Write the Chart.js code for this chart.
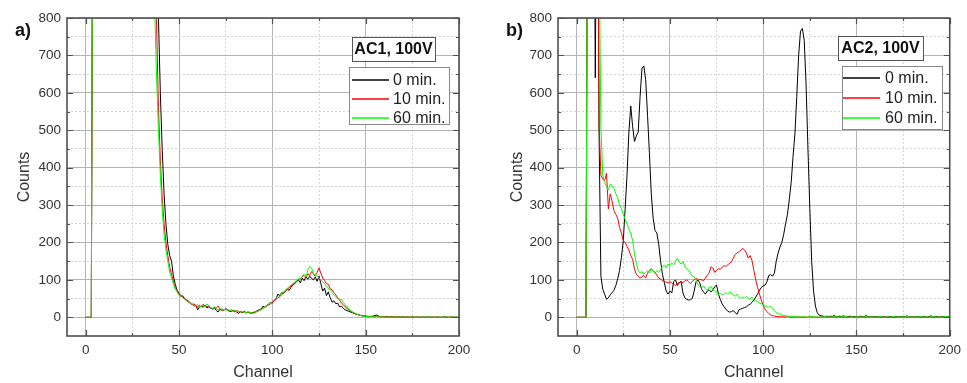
<!DOCTYPE html>
<html>
<head>
<meta charset="utf-8">
<script src="https://cdn.jsdelivr.net/npm/chart.js@4.4.1/dist/chart.umd.min.js"></script>
<style>
  html, body { margin: 0; padding: 0; background: #fff; }
  #wrap { position: relative; width: 967px; height: 383px; }
  canvas { position: absolute; top: 0; }
  #chartA { left: 0; }
  #chartB { left: 480px; }
</style>
</head>
<body>
<div id="wrap">
  <canvas id="chartA" width="480" height="383"></canvas>
  <canvas id="chartB" width="487" height="383"></canvas>
</div>
<script>
// channel numbers (x axis)
const channels = [
  0, 1, 2, 3, 4, 5, 6, 7, 8, 9, 10, 11, 12, 13, 14, 15, 16, 17, 18, 19,
  20, 21, 22, 23, 24, 25, 26, 27, 28, 29, 30, 31, 32, 33, 34, 35, 36, 37, 38, 39,
  40, 41, 42, 43, 44, 45, 46, 47, 48, 49, 50, 51, 52, 53, 54, 55, 56, 57, 58, 59,
  60, 61, 62, 63, 64, 65, 66, 67, 68, 69, 70, 71, 72, 73, 74, 75, 76, 77, 78, 79,
  80, 81, 82, 83, 84, 85, 86, 87, 88, 89, 90, 91, 92, 93, 94, 95, 96, 97, 98, 99,
  100, 101, 102, 103, 104, 105, 106, 107, 108, 109, 110, 111, 112, 113, 114, 115, 116, 117, 118, 119,
  120, 121, 122, 123, 124, 125, 126, 127, 128, 129, 130, 131, 132, 133, 134, 135, 136, 137, 138, 139,
  140, 141, 142, 143, 144, 145, 146, 147, 148, 149, 150, 151, 152, 153, 154, 155, 156, 157, 158, 159,
  160, 161, 162, 163, 164, 165, 166, 167, 168, 169, 170, 171, 172, 173, 174, 175, 176, 177, 178, 179,
  180, 181, 182, 183, 184, 185, 186, 187, 188, 189, 190, 191, 192, 193, 194, 195, 196, 197, 198, 199,
  200
];

const seriesLabels = ['0 min.', '10 min.', '60 min.'];
const seriesColors = ['#000000', '#ff0000', '#00ff00'];

// ---- panel a) AC1, 100V ----
const ac1_0min = [
  0, 0, 0, 0, 1500, 1500, 1500, 1500, 1500, 1500,
  1500, 1500, 1500, 1500, 1500, 1500, 1500, 1500, 1500, 1500,
  1500, 1500, 1500, 1500, 1500, 1500, 1500, 1500, 1500, 1500,
  1500, 1500, 1500, 1500, 1500, 1500, 1500, 1500, 1000, 800,
  600, 450, 330, 250, 195, 165, 150, 110, 88, 72,
  64, 58, 55, 50, 46, 44, 38, 35, 30, 33,
  20, 28, 30, 27, 32, 25, 28, 24, 22, 26,
  18, 14, 22, 20, 18, 24, 20, 17, 15, 19,
  16, 14, 10, 15, 13, 16, 12, 14, 11, 13,
  12, 15, 18, 20, 22, 30, 26, 32, 35, 40,
  38, 45, 50, 62, 58, 66, 64, 70, 75, 72,
  80, 86, 90, 95, 100, 92, 105, 98, 108, 102,
  110, 104, 100, 108, 96, 110, 90, 70, 78, 58,
  68, 52, 40, 44, 36, 38, 28, 30, 24, 20,
  18, 16, 14, 12, 10, 8, 7, 5, 4, 3,
  3, 2, 2, 2, 3, 5, 6, 3, 2, 2,
  1, 2, 1, 1, 2, 1, 0, 1, 1, 0,
  1, 0, 1, 0, 0, 1, 0, 0, 1, 0,
  0, 1, 0, 0, 1, 0, 0, 0, 1, 0,
  0, 0, 1, 0, 0, 0, 1, 0, 0, 0,
  0
];
const ac1_10min = [
  0, 0, 0, 0, 1500, 1500, 1500, 1500, 1500, 1500,
  1500, 1500, 1500, 1500, 1500, 1500, 1500, 1500, 1500, 1500,
  1500, 1500, 1500, 1500, 1500, 1500, 1500, 1500, 1500, 1500,
  1500, 1500, 1500, 1500, 1500, 1500, 1500, 900, 780, 560,
  420, 320, 250, 200, 165, 135, 115, 95, 80, 70,
  60, 55, 58, 50, 47, 40, 38, 34, 36, 30,
  28, 32, 27, 35, 30, 28, 32, 25, 22, 27,
  24, 30, 22, 18, 20, 22, 18, 16, 20, 17,
  15, 18, 14, 16, 13, 15, 12, 14, 12, 11,
  14, 13, 16, 18, 20, 24, 27, 30, 33, 36,
  40, 44, 48, 52, 55, 60, 65, 70, 74, 80,
  84, 88, 92, 96, 100, 104, 108, 112, 106, 116,
  112, 122, 116, 110, 120, 132, 118, 105, 98, 90,
  88, 76, 74, 66, 60, 52, 46, 38, 34, 28,
  24, 20, 17, 14, 11, 9, 7, 6, 5, 4,
  3, 3, 2, 3, 2, 2, 3, 2, 1, 2,
  2, 1, 2, 1, 1, 2, 1, 1, 0, 1,
  1, 0, 1, 1, 0, 1, 0, 1, 0, 0,
  1, 0, 0, 1, 0, 0, 1, 0, 0, 1,
  0, 0, 1, 0, 1, 0, 0, 1, 0, 0,
  0
];
const ac1_60min = [
  0, 0, 0, 0, 1500, 1500, 1500, 1500, 1500, 1500,
  1500, 1500, 1500, 1500, 1500, 1500, 1500, 1500, 1500, 1500,
  1500, 1500, 1500, 1500, 1500, 1500, 1500, 1500, 1500, 1500,
  1500, 1500, 1500, 1500, 1500, 1500, 1000, 820, 640, 500,
  380, 290, 220, 180, 150, 120, 105, 90, 75, 68,
  60, 56, 52, 48, 44, 42, 38, 36, 32, 30,
  34, 28, 30, 32, 28, 36, 30, 26, 24, 28,
  22, 20, 24, 21, 19, 22, 18, 20, 17, 16,
  18, 15, 17, 14, 16, 13, 12, 15, 13, 12,
  10, 14, 16, 18, 21, 25, 28, 32, 35, 38,
  42, 46, 52, 56, 60, 64, 68, 72, 78, 82,
  86, 90, 95, 98, 104, 100, 110, 115, 108, 126,
  136, 132, 118, 112, 110, 105, 100, 96, 90, 84,
  78, 72, 66, 60, 56, 50, 46, 48, 40, 34,
  28, 22, 18, 14, 12, 9, 7, 5, 4, 3,
  2, 2, 1, 2, 1, 1, 2, 1, 1, 1,
  1, 0, 1, 1, 0, 1, 0, 1, 0, 1,
  0, 1, 0, 0, 1, 0, 1, 0, 0, 1,
  0, 0, 1, 0, 0, 1, 0, 0, 1, 0,
  1, 0, 0, 1, 0, 0, 1, 0, 0, 1,
  0
];

// ---- panel b) AC2, 100V ----
const ac2_0min = [
  0, 0, 0, 0, 0, 0, 1500, 1500, 1500, 1500,
  640, 1500, 500, 110, 75, 62, 48, 52, 60, 66,
  72, 85, 103, 125, 160, 205, 290, 380, 495, 565,
  510, 470, 485, 495, 590, 665, 672, 635, 540, 440,
  330, 265, 232, 225, 195, 150, 115, 92, 70, 62,
  70, 65, 95, 100, 85, 92, 96, 65, 52, 48,
  46, 47, 50, 70, 95, 100, 92, 75, 68, 62,
  70, 74, 68, 72, 82, 86, 62, 48, 36, 28,
  22, 16, 14, 15, 18, 12, 8, 20, 22, 24,
  26, 28, 32, 35, 40, 46, 54, 62, 72, 80,
  84, 86, 95, 112, 114, 110, 118, 150, 172, 188,
  200, 222, 250, 275, 315, 360, 430, 490, 590, 700,
  765, 772, 740, 620, 450, 290, 150, 70, 30, 12,
  6, 4, 3, 2, 3, 2, 3, 2, 5, 2,
  2, 3, 2, 4, 2, 1, 2, 3, 1, 2,
  2, 1, 3, 2, 1, 5, 2, 1, 2, 1,
  2, 1, 1, 2, 1, 2, 1, 1, 2, 1,
  1, 2, 1, 1, 2, 1, 1, 4, 1, 1,
  2, 1, 1, 2, 1, 1, 2, 1, 1, 2,
  4, 1, 1, 2, 1, 1, 2, 1, 1, 2,
  1
];
const ac2_10min = [
  0, 0, 0, 0, 0, 0, 1500, 1500, 1500, 1500,
  1500, 1500, 520, 380, 370, 365, 385, 290, 330, 310,
  285, 275, 265, 240, 225, 205, 200, 190, 180, 165,
  155, 130, 115, 110, 105, 108, 112, 106, 118, 125,
  130, 124, 120, 112, 105, 102, 98, 96, 94, 92,
  95, 92, 88, 85, 90, 93, 96, 92, 98, 100,
  95, 90, 96, 100, 105, 98, 102, 100, 98, 105,
  112, 118, 135, 132, 120, 126, 130, 128, 134, 138,
  136, 140, 145, 148, 158, 168, 172, 175, 180, 184,
  180, 172, 158, 165, 152, 125, 100, 80, 62, 46,
  32, 22, 15, 10, 6, 5, 3, 2, 2, 1,
  2, 1, 1, 2, 1, 0, 1, 1, 0, 1,
  1, 0, 1, 0, 1, 2, 0, 1, 0, 1,
  0, 1, 0, 1, 0, 0, 1, 0, 1, 0,
  0, 1, 0, 0, 1, 0, 0, 1, 0, 0,
  1, 0, 0, 1, 0, 0, 1, 0, 0, 1,
  0, 0, 1, 0, 0, 1, 0, 0, 0, 1,
  0, 0, 1, 0, 0, 0, 1, 0, 0, 0,
  1, 0, 0, 0, 1, 0, 0, 0, 1, 0,
  0, 1, 0, 0, 0, 1, 0, 0, 0, 1,
  0
];
const ac2_60min = [
  0, 0, 0, 0, 0, 0, 1500, 1500, 1500, 1500,
  1500, 1500, 1000, 510, 380, 360, 350, 340, 356, 352,
  345, 330, 320, 300, 290, 275, 262, 250, 235, 225,
  205, 170, 145, 125, 118, 122, 115, 120, 125, 118,
  128, 122, 118, 125, 120, 128, 135, 140, 132, 142,
  138, 145, 140, 150, 158, 148, 142, 150, 135, 130,
  126, 118, 110, 108, 100, 88, 82, 78, 84, 76,
  72, 80, 82, 75, 70, 66, 60, 64, 60, 62,
  66, 62, 68, 64, 60, 56, 62, 55, 50, 54,
  52, 56, 50, 48, 54, 46, 44, 42, 38, 36,
  33, 30, 28, 27, 30, 24, 18, 12, 10, 8,
  6, 5, 4, 3, 3, 2, 2, 1, 2, 1,
  1, 2, 1, 1, 0, 1, 2, 1, 1, 0,
  1, 1, 0, 2, 1, 1, 0, 1, 1, 2,
  1, 0, 1, 1, 2, 1, 0, 1, 1, 0,
  2, 1, 1, 0, 1, 2, 1, 0, 1, 1,
  0, 1, 1, 2, 1, 0, 1, 1, 0, 1,
  2, 1, 0, 1, 1, 0, 1, 2, 1, 0,
  1, 1, 0, 1, 2, 1, 0, 1, 1, 0,
  1, 2, 1, 0, 1, 1, 0, 1, 2, 1,
  1
];

const FONT = "'Liberation Sans', Arial, sans-serif";
const TEXT = '#333333';
const FRAME = '#505050';

// Origin-style box, inward ticks, inset legend and panel tag
const originFrame = {
  id: 'originFrame',
  afterDraw(chart, args, o) {
    const ctx = chart.ctx;
    const a = chart.chartArea;
    const xs = chart.scales.x, ys = chart.scales.y;
    ctx.save();
    ctx.strokeStyle = FRAME;
    ctx.lineWidth = 1.2;
    ctx.beginPath();
    xs.ticks.forEach(t => {
      if (t.value < 0) return;
      const px = Math.round(xs.getPixelForValue(t.value)) + 0.5;
      const len = t.value % 50 === 0 ? 6 : 3;
      ctx.moveTo(px, a.bottom); ctx.lineTo(px, a.bottom - len);
      ctx.moveTo(px, a.top); ctx.lineTo(px, a.top + len);
    });
    ys.ticks.forEach(t => {
      if (t.value < 0) return;
      const py = Math.round(ys.getPixelForValue(t.value)) + 0.5;
      const len = t.value % 100 === 0 ? 6 : 3;
      ctx.moveTo(a.left, py); ctx.lineTo(a.left + len, py);
      ctx.moveTo(a.right, py); ctx.lineTo(a.right - len, py);
    });
    ctx.stroke();
    ctx.lineWidth = 1.6;
    ctx.strokeRect(a.left, a.top, a.right - a.left, a.bottom - a.top);

    // title box
    const tb = o.titleBox;
    ctx.fillStyle = '#fff';
    ctx.fillRect(tb[0], tb[1], tb[2] - tb[0], tb[3] - tb[1]);
    ctx.lineWidth = 1;
    ctx.strokeStyle = '#555';
    ctx.strokeRect(tb[0] + 0.5, tb[1] + 0.5, tb[2] - tb[0], tb[3] - tb[1]);
    ctx.fillStyle = '#111';
    ctx.font = 'bold 16px ' + FONT;
    ctx.textAlign = 'center';
    ctx.textBaseline = 'middle';
    ctx.fillText(o.title, (tb[0] + tb[2]) / 2, (tb[1] + tb[3]) / 2 + 1);

    // legend box
    const lb = o.legendBox;
    ctx.fillStyle = '#fff';
    ctx.fillRect(lb[0], lb[1], lb[2] - lb[0], lb[3] - lb[1]);
    ctx.strokeStyle = '#888';
    ctx.strokeRect(lb[0] + 0.5, lb[1] + 0.5, lb[2] - lb[0], lb[3] - lb[1]);
    ctx.font = '16px ' + FONT;
    ctx.textAlign = 'left';
    chart.data.datasets.forEach((ds, i) => {
      const yy = o.rows[i];
      ctx.strokeStyle = ds.borderColor;
      ctx.lineWidth = 1.5;
      ctx.beginPath();
      ctx.moveTo(o.lineX[0], yy); ctx.lineTo(o.lineX[1], yy);
      ctx.stroke();
      ctx.fillStyle = '#222';
      ctx.fillText(ds.label, o.textX, yy + 1);
    });

    // panel tag
    ctx.fillStyle = '#111';
    ctx.font = 'bold 18px ' + FONT;
    ctx.textAlign = 'left';
    ctx.textBaseline = 'alphabetic';
    ctx.fillText(o.tag, o.tagPos[0], o.tagPos[1]);
    ctx.restore();
  }
};

function buildChart(id, series, panel) {
  return new Chart(document.getElementById(id), {
    type: 'line',
    data: {
      datasets: series.map((s, i) => ({
        label: seriesLabels[i],
        data: channels.map((c, k) => ({ x: c, y: s[k] })),
        borderColor: seriesColors[i],
        borderWidth: 1,
        pointRadius: 0,
        tension: 0,
        fill: false,
        order: 3 - i
      }))
    },
    options: {
      responsive: false,
      animation: false,
      devicePixelRatio: 1,
      layout: { padding: { left: panel.padLeft, right: panel.padRight, top: 18, bottom: 0 } },
      plugins: {
        legend: { display: false },
        tooltip: { enabled: false },
        originFrame: panel
      },
      scales: {
        x: {
          type: 'linear',
          min: -10,
          max: 200,
          afterFit: s => { s.height = 47; },
          ticks: {
            stepSize: 25,
            includeBounds: false,
            autoSkip: false,
            maxRotation: 0,
            padding: 6,
            color: TEXT,
            font: { family: FONT, size: 13.5 },
            callback: v => (v >= 0 && v % 50 === 0) ? String(v) : ''
          },
          grid: {
            drawTicks: false,
            tickLength: 0,
            lineWidth: 1,
            color: c => {
              if (!c.tick || c.tick.value < 0) return 'rgba(0,0,0,0)';
              return c.tick.value % 50 === 0 ? '#b4b4b4' : '#d4d4d4';
            }
          },
          border: {
            display: false,
            dash: c => (c.tick && c.tick.value % 50 !== 0) ? [2, 2] : []
          },
          title: {
            display: true,
            text: 'Channel',
            color: TEXT,
            font: { family: FONT, size: 16 },
            padding: { top: 0, bottom: 1 }
          }
        },
        y: {
          type: 'linear',
          min: -50,
          max: 800,
          afterFit: s => { s.width = panel.yWidth; },
          ticks: {
            stepSize: 50,
            autoSkip: false,
            padding: 6,
            color: TEXT,
            font: { family: FONT, size: 13.5 },
            callback: v => (v >= 0 && v % 100 === 0) ? String(v) : ''
          },
          grid: {
            drawTicks: false,
            tickLength: 0,
            lineWidth: 1,
            color: c => {
              if (!c.tick || c.tick.value < 0) return 'rgba(0,0,0,0)';
              return c.tick.value % 100 === 0 ? '#b4b4b4' : '#d4d4d4';
            }
          },
          border: {
            display: false,
            dash: c => (c.tick && c.tick.value % 100 !== 0) ? [2, 2] : []
          },
          title: {
            display: true,
            text: 'Counts',
            color: TEXT,
            font: { family: FONT, size: 16 },
            padding: { top: 15, bottom: 0 }
          }
        }
      }
    },
    plugins: [originFrame]
  });
}

buildChart('chartA', [ac1_0min, ac1_10min, ac1_60min], {
  padLeft: 0, padRight: 21, yWidth: 67,
  tag: 'a)', tagPos: [15, 36],
  title: 'AC1, 100V',
  titleBox: [352, 37, 435, 61],
  legendBox: [349, 67, 449, 124],
  lineX: [352, 389], textX: 393,
  rows: [80, 99, 118]
});

buildChart('chartB', [ac2_0min, ac2_10min, ac2_60min], {
  padLeft: 13, padRight: 16, yWidth: 65,
  tag: 'b)', tagPos: [26, 36],
  title: 'AC2, 100V',
  titleBox: [358, 36, 443, 60],
  legendBox: [362, 66, 462, 129],
  lineX: [363, 400], textX: 405,
  rows: [78, 98, 118]
});
</script>
</body>
</html>
